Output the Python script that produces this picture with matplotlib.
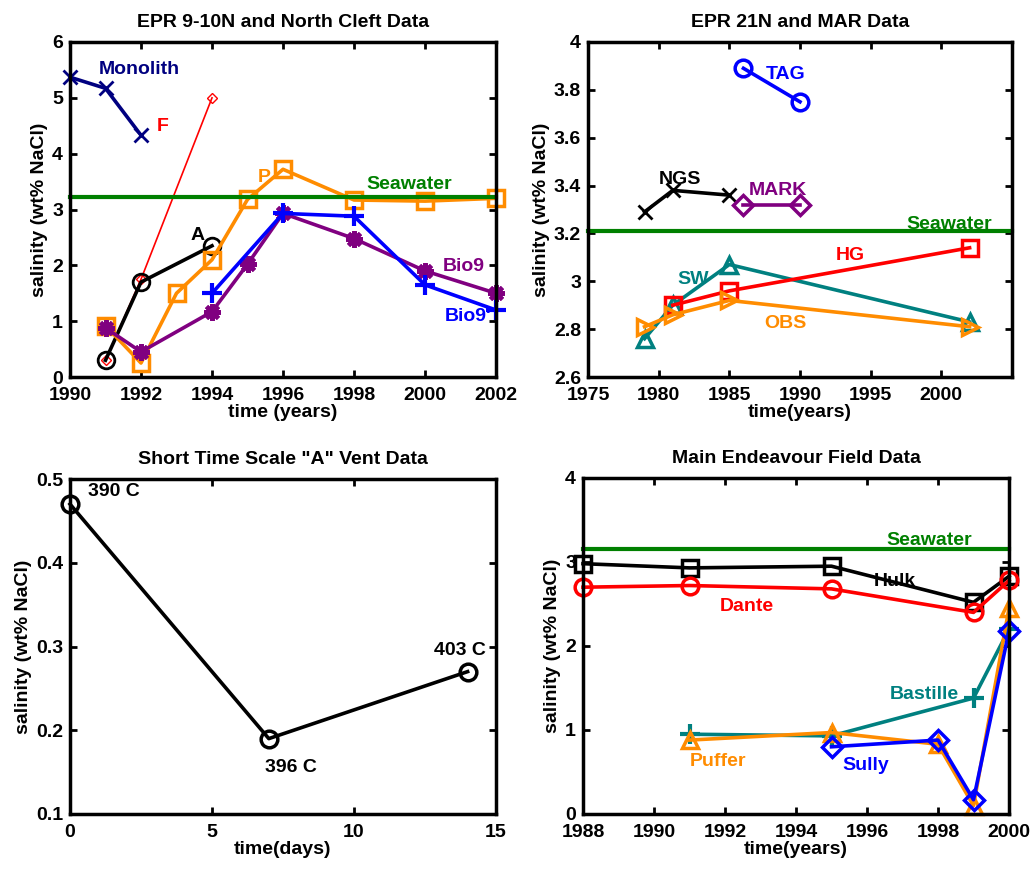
import matplotlib
matplotlib.use("Agg")
import matplotlib.pyplot as plt

plt.rcParams["font.family"] = ["Liberation Sans", "DejaVu Sans"]
plt.rcParams["font.weight"] = "bold"
plt.rcParams["font.size"] = 14
plt.rcParams["axes.labelweight"] = "bold"
plt.rcParams["axes.titleweight"] = "bold"

NAVY = (0, 0, 0.5)
RED = (1, 0, 0)
ORANGE = (1, 0.55, 0)
PURPLE = (0.5, 0, 0.5)
BLUE = (0, 0, 1)
GREEN = (0, 0.5, 0)
TEAL = (0, 0.5, 0.5)
ASTER = (8, 2, 0)

# EPR 9-10N / North Cleft
mono_t = [1990, 1991, 1992]
mono_s = [5.37, 5.17, 4.33]
f_t = [1991, 1992, 1994]
f_s = [0.3, 1.75, 5.0]
a_t = [1991, 1992, 1994]
a_s = [0.3, 1.7, 2.35]
p_t = [1991, 1992, 1993, 1994, 1995, 1996, 1998, 2000, 2002]
p_s = [0.92, 0.25, 1.5, 2.1, 3.18, 3.72, 3.17, 3.15, 3.2]
bio9_t = [1991, 1992, 1994, 1995, 1996, 1998, 2000, 2002]
bio9_s = [0.88, 0.45, 1.17, 2.02, 2.93, 2.48, 1.9, 1.5]
bio9p_t = [1994, 1996, 1998, 2000, 2002]
bio9p_s = [1.5, 2.93, 2.88, 1.65, 1.2]
sw_epr9 = 3.22

# EPR 21N / MAR
tag_t = [1986, 1990]
tag_s = [3.89, 3.75]
ngs_t = [1979, 1981, 1985]
ngs_s = [3.29, 3.38, 3.36]
mark_t = [1986, 1990]
mark_s = [3.32, 3.32]
hg_t = [1981, 1985, 2002]
hg_s = [2.9, 2.96, 3.14]
swv_t = [1979, 1981, 1985, 2002]
swv_s = [2.76, 2.9, 3.07, 2.83]
obs_t = [1979, 1981, 1985, 2002]
obs_s = [2.81, 2.86, 2.92, 2.81]
sw_epr21 = 3.21

# "A" vent, short time scale
vent_days = [0, 7, 14]
vent_s = [0.47, 0.19, 0.27]
vent_temp = ["390 C", "396 C", "403 C"]

# Main Endeavour Field
hulk_t = [1988, 1991, 1995, 1999, 2000]
hulk_s = [2.98, 2.93, 2.95, 2.52, 2.83]
dante_t = [1988, 1991, 1995, 1999, 2000]
dante_s = [2.7, 2.72, 2.68, 2.4, 2.78]
bast_t = [1991, 1995, 1999, 2000]
bast_s = [0.95, 0.93, 1.38, 2.2]
puff_t = [1991, 1995, 1998, 1999, 2000]
puff_s = [0.88, 0.97, 0.83, 0.1, 2.45]
sully_t = [1995, 1998, 1999, 2000]
sully_s = [0.8, 0.88, 0.17, 2.18]
sw_mef = 3.15

W, H = 1031, 873
fig = plt.figure(figsize=(W / 100, H / 100), dpi=100)


def box(l, t, r, b):
    return fig.add_axes([l / W, 1 - b / H, (r - l) / W, (b - t) / H])


def style(ax):
    for s in ax.spines.values():
        s.set_linewidth(2.5)
    ax.tick_params(direction="in", length=5, width=2, top=True, right=True,
                   labelsize=14)
    ax.tick_params(axis="x", pad=7)
    ax.tick_params(axis="y", pad=5)


lw = 2.6
ms = 10
mew = 2

# panel 1
ax1 = box(70, 42, 496, 377)
ax1.plot(mono_t, mono_s, color=NAVY, lw=lw, marker="x", ms=ms, mew=mew)
ax1.plot(f_t, f_s, color=RED, lw=1.2, marker="D", ms=5, mew=1, mfc="none")
ax1.plot(a_t, a_s, color="black", lw=lw, marker="o", ms=ms + 2, mew=mew, mfc="none")
ax1.plot(p_t, p_s, color=ORANGE, lw=lw, marker="s", ms=ms + 2, mew=mew + 0.5, mfc="none")
ax1.plot(bio9_t, bio9_s, color=PURPLE, lw=lw, marker=ASTER, ms=ms + 2, mew=mew + 1)
ax1.plot(bio9p_t, bio9p_s, color=BLUE, lw=lw, marker="+", ms=ms + 4, mew=mew + 1)
ax1.axhline(sw_epr9, color=GREEN, lw=3)
ax1.text(1990.8, 5.42, "Monolith", color=NAVY)
ax1.text(1992.45, 4.4, "F", color=RED)
ax1.text(1993.4, 2.45, "A", color="black")
ax1.text(1995.3, 3.5, "P", color=ORANGE)
ax1.text(1998.35, 3.37, "Seawater", color=GREEN)
ax1.text(2000.5, 1.9, "Bio9", color=PURPLE)
ax1.text(2000.55, 1.0, "Bio9'", color=BLUE)
ax1.set_xlim(1990, 2002)
ax1.set_ylim(0, 6)
ax1.set_xticks(range(1990, 2003, 2))
ax1.set_yticks(range(0, 7))
ax1.set_xlabel("time (years)", labelpad=0)
ax1.set_ylabel("salinity (wt% NaCl)", labelpad=3)
ax1.set_title("EPR 9-10N and North Cleft Data", fontsize=14, pad=11)
style(ax1)

# panel 2
ax2 = box(588, 42, 1012, 377)
ax2.plot(tag_t, tag_s, color=BLUE, lw=lw, marker="o", ms=ms + 2, mew=mew + 0.5, mfc="none")
ax2.plot(ngs_t, ngs_s, color="black", lw=lw, marker="x", ms=ms, mew=mew)
ax2.plot(mark_t, mark_s, color=PURPLE, lw=lw, marker="D", ms=ms, mew=mew + 0.5, mfc="none")
ax2.plot(swv_t, swv_s, color=TEAL, lw=lw, marker="^", ms=ms + 2, mew=mew + 0.5, mfc="none")
ax2.plot(hg_t, hg_s, color=RED, lw=lw, marker="s", ms=ms + 2, mew=mew + 0.5, mfc="none")
ax2.plot(obs_t, obs_s, color=ORANGE, lw=lw, marker=">", ms=ms + 2, mew=mew + 0.5, mfc="none")
ax2.axhline(sw_epr21, color=GREEN, lw=3)
ax2.text(1987.6, 3.845, "TAG", color=BLUE)
ax2.text(1980.0, 3.405, "NGS", color="black")
ax2.text(1986.4, 3.36, "MARK", color=PURPLE)
ax2.text(1997.5, 3.22, "Seawater", color=GREEN)
ax2.text(1992.5, 3.09, "HG", color=RED)
ax2.text(1981.3, 2.99, "SW", color=TEAL)
ax2.text(1987.5, 2.805, "OBS", color=ORANGE)
ax2.set_xlim(1975, 2005)
ax2.set_ylim(2.6, 4.0)
ax2.set_xticks(range(1975, 2001, 5))
ax2.set_yticks([2.6, 2.8, 3.0, 3.2, 3.4, 3.6, 3.8, 4.0])
ax2.set_yticklabels(["2.6", "2.8", "3", "3.2", "3.4", "3.6", "3.8", "4"])
ax2.set_xlabel("time(years)", labelpad=0)
ax2.set_ylabel("salinity (wt% NaCl)", labelpad=3)
ax2.set_title("EPR 21N and MAR Data", fontsize=14, pad=11)
style(ax2)

# panel 3
ax3 = box(70, 479, 496, 814)
ax3.plot(vent_days, vent_s, color="black", lw=lw, marker="o", ms=ms + 2, mew=mew + 0.5, mfc="none")
label_pos = [(0.65, 0.475), (6.85, 0.145), (12.8, 0.285)]
for (tx, ty), lab in zip(label_pos, vent_temp):
    ax3.text(tx, ty, lab, color="black", va="bottom")
ax3.set_xlim(0, 15)
ax3.set_ylim(0.1, 0.5)
ax3.set_xticks([0, 5, 10, 15])
ax3.set_yticks([0.1, 0.2, 0.3, 0.4, 0.5])
ax3.set_xlabel("time(days)", labelpad=0)
ax3.set_ylabel("salinity (wt% NaCl)", labelpad=3)
ax3.set_title('Short Time Scale "A" Vent Data', fontsize=14, pad=11)
style(ax3)

# panel 4
ax4 = box(583, 478, 1009, 814)
ax4.plot(bast_t, bast_s, color=TEAL, lw=lw, marker="+", ms=ms + 4, mew=mew + 1)
ax4.plot(puff_t, puff_s, color=ORANGE, lw=lw, marker="^", ms=ms + 2, mew=mew + 0.5, mfc="none")
ax4.plot(sully_t, sully_s, color=BLUE, lw=lw, marker="D", ms=ms, mew=mew + 0.5, mfc="none")
ax4.plot(hulk_t, hulk_s, color="black", lw=lw, marker="s", ms=ms + 2, mew=mew + 0.5, mfc="none")
ax4.plot(dante_t, dante_s, color=RED, lw=lw, marker="o", ms=ms + 2, mew=mew + 0.5, mfc="none")
ax4.axhline(sw_mef, color=GREEN, lw=3)
ax4.text(1996.55, 3.2, "Seawater", color=GREEN)
ax4.text(1996.2, 2.72, "Hulk", color="black")
ax4.text(1991.85, 2.42, "Dante", color=RED)
ax4.text(1996.65, 1.37, "Bastille", color=TEAL)
ax4.text(1991.0, 0.57, "Puffer", color=ORANGE)
ax4.text(1995.3, 0.52, "Sully", color=BLUE)
ax4.set_xlim(1988, 2000)
ax4.set_ylim(0, 4)
ax4.set_xticks(range(1988, 2001, 2))
ax4.set_yticks([0, 1, 2, 3, 4])
ax4.set_xlabel("time(years)", labelpad=0)
ax4.set_ylabel("salinity (wt% NaCl)", labelpad=3)
ax4.set_title("Main Endeavour Field Data", fontsize=14, pad=11)
style(ax4)

for ax in (ax1, ax2, ax3, ax4):
    for ln in ax.lines:
        ln.set_clip_on(False)

fig.savefig("out.png", dpi=100)
